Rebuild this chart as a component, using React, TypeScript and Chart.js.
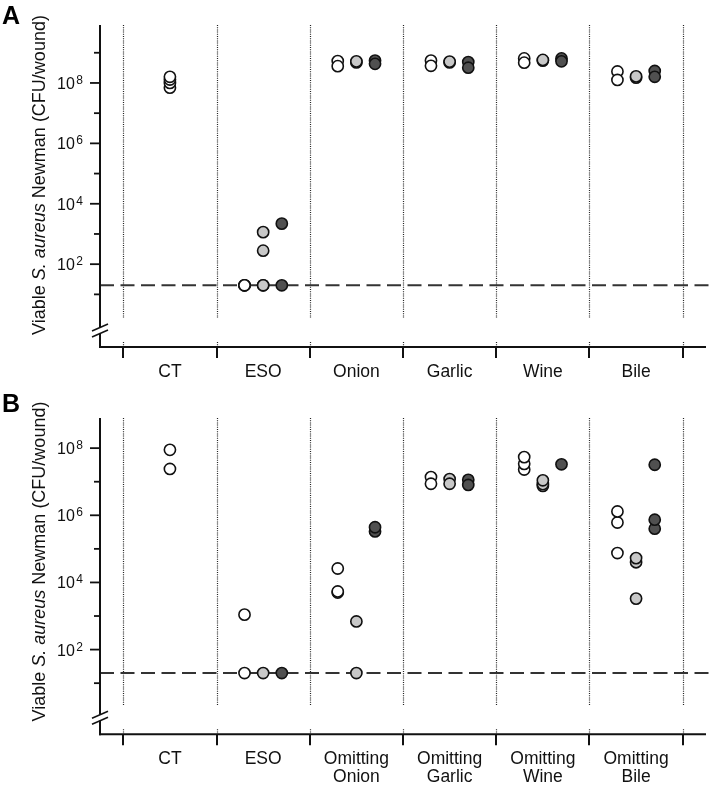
import React, { useEffect, useRef } from 'react';
import { Chart, registerables } from 'chart.js';
Chart.register(...registerables);

const FONT = '"Liberation Sans", Arial, Helvetica, sans-serif';

// ---------- data ----------
const categoriesA = ['CT', 'ESO', 'Onion', 'Garlic', 'Wine', 'Bile'];
const categoriesB = ['CT', 'ESO', 'Omitting\nOnion', 'Omitting\nGarlic', 'Omitting\nWine', 'Omitting\nBile'];

// per category: values of the three groups (white, light grey, dark grey)
const whiteA = [[7e7, 1.0e8, 1.3e8, 1.6e8], [20, 20, 20], [5.3e8, 3.6e8], [5.5e8, 3.7e8], [6.5e8, 4.7e8], [2.4e8, 1.26e8]];
const grayA = [[], [20, 20, 280, 1150], [4.8e8, 5.2e8], [4.8e8, 5.1e8], [5.5e8, 5.8e8], [1.5e8, 1.65e8]];
const darkA = [[], [20, 2200], [5.5e8, 4.3e8], [4.9e8, 3.2e8], [6.5e8, 5.2e8], [2.5e8, 1.6e8]];

const whiteB = [[8.9e7, 2.4e7], [20, 1100], [5000, 5400, 2.6e4], [1.37e7, 8.7e6], [2.3e7, 3.4e7, 5.4e7], [7.5e4, 6.1e5, 1.3e6]];
const grayB = [[], [20], [20, 690], [1.2e7, 8.7e6], [7.5e6, 8.5e6, 1.1e7], [3300, 4e4, 5.3e4]];
const darkB = [[], [20], [3.3e5, 4.4e5], [1.14e7, 8e6], [3.3e7], [4e5, 7.4e5, 3.2e7]];

const majorExponents = [2, 4, 6, 8];
const minorExponentsA = [1, 3, 5, 7, 9];
const minorExponentsB = [1, 3, 5, 7];
const detectionLimit = 20;

const groupColors = ['#ffffff', '#c8c8c8', '#505050'];
const groupNames = ['group 1', 'group 2', 'group 3'];

type PanelCfg = {
  letter: string;
  height: number;
  padding: { left: number; right: number; top: number; bottom: number };
  yMin: number;
  yMax: number;
  categories: string[];
  groups: number[][][];
  minor: number[];
  labelCenterY: number;
  letterBaseline: number;
};

const panelA: PanelCfg = {
  letter: 'A',
  height: 385,
  padding: { left: 100, right: 3, top: 25, bottom: 38 },
  yMin: 0.181,
  yMax: 8.3e9,
  categories: categoriesA,
  groups: [whiteA, grayA, darkA],
  minor: minorExponentsA,
  labelCenterY: 175,
  letterBaseline: 23.5,
};

const panelB: PanelCfg = {
  letter: 'B',
  height: 400,
  padding: { left: 100, right: 3, top: 33, bottom: 50.7 },
  yMin: 0.308,
  yMax: 7.9e8,
  categories: categoriesB,
  groups: [whiteB, grayB, darkB],
  minor: minorExponentsB,
  labelCenterY: 176.5,
  letterBaseline: 26.7,
};

function buildDatasets(groups: number[][][]) {
  return groups.map((g, gi) => ({
    label: groupNames[gi],
    data: g.flatMap((vals, ci) => {
      const present = groups.filter((gg) => gg[ci].length > 0).length;
      const offset = present > 1 ? (gi - 1) * 0.2 : 0;
      return vals.map((v) => ({ x: ci + 0.5 + offset, y: v }));
    }),
    backgroundColor: groupColors[gi],
    borderColor: '#111',
    borderWidth: 1.6,
    pointRadius: 5.6,
    pointHoverRadius: 5.6,
    showLine: false,
  }));
}

function line(ctx: CanvasRenderingContext2D, x1: number, y1: number, x2: number, y2: number) {
  ctx.beginPath();
  ctx.moveTo(x1, y1);
  ctx.lineTo(x2, y2);
  ctx.stroke();
}

function makePlugin(cfg: PanelCfg) {
  return {
    id: 'panelDecor',
    beforeDatasetsDraw(chart: any) {
      const ctx: CanvasRenderingContext2D = chart.ctx;
      const { left, top, bottom } = chart.chartArea;
      const xs = chart.scales.x;
      const ys = chart.scales.y;
      ctx.save();
      ctx.strokeStyle = '#222';
      ctx.lineWidth = 1.2;
      ctx.setLineDash([1, 1.2]);
      for (let i = 0; i <= cfg.categories.length; i++) {
        const x = Math.round(xs.getPixelForValue(i)) + 0.5;
        line(ctx, x, top, x, bottom - 29);
        line(ctx, x, bottom - 5, x, bottom);
      }
      ctx.setLineDash([14, 6.5]);
      ctx.lineWidth = 2;
      ctx.strokeStyle = '#333';
      const yd = ys.getPixelForValue(detectionLimit);
      line(ctx, left, yd, chart.width, yd);
      ctx.restore();
    },
    afterDraw(chart: any) {
      const ctx: CanvasRenderingContext2D = chart.ctx;
      const { left, right, top, bottom } = chart.chartArea;
      const xs = chart.scales.x;
      const ys = chart.scales.y;
      ctx.save();
      ctx.setLineDash([]);
      ctx.strokeStyle = '#111';
      ctx.fillStyle = '#111';
      ctx.lineWidth = 2;
      // y axis with break
      const b1 = bottom - 19.5;
      const b2 = bottom - 13.5;
      line(ctx, left, top, left, b1);
      line(ctx, left, b2, left, bottom + 1);
      ctx.lineWidth = 1.5;
      line(ctx, left - 8, b1 + 3.5, left + 8, b1 - 3.5);
      line(ctx, left - 8, b2 + 3.5, left + 8, b2 - 3.5);
      // x axis
      ctx.lineWidth = 2;
      line(ctx, left - 1, bottom, right, bottom);
      // y ticks
      ctx.lineWidth = 1.8;
      cfg.minor.forEach((e) => {
        const y = ys.getPixelForValue(Math.pow(10, e));
        line(ctx, left - 6, y, left, y);
      });
      majorExponents.forEach((e) => {
        const y = ys.getPixelForValue(Math.pow(10, e));
        line(ctx, left - 10, y, left, y);
        ctx.textAlign = 'right';
        ctx.textBaseline = 'alphabetic';
        ctx.font = `12px ${FONT}`;
        const sup = String(e);
        const supRight = left - 17;
        ctx.fillText(sup, supRight, y + 1);
        const sw = ctx.measureText(sup).width;
        ctx.font = `16px ${FONT}`;
        ctx.fillText('10', supRight - sw - 1.5, y + 6);
      });
      // x ticks and labels
      ctx.lineWidth = 2;
      for (let i = 0; i <= cfg.categories.length; i++) {
        const x = Math.round(xs.getPixelForValue(i));
        line(ctx, x, bottom, x, bottom + 11);
      }
      ctx.font = `17.5px ${FONT}`;
      ctx.textAlign = 'center';
      ctx.textBaseline = 'alphabetic';
      cfg.categories.forEach((c, i) => {
        const x = xs.getPixelForValue(i + 0.5);
        c.split('\n').forEach((ln, j) => {
          ctx.fillText(ln, x, bottom + 30 + j * 18);
        });
      });
      // y axis title
      ctx.save();
      ctx.translate(45, cfg.labelCenterY);
      ctx.rotate(-Math.PI / 2);
      const parts: [string, boolean][] = [
        ['Viable ', false],
        ['S. aureus', true],
        [' Newman (CFU/wound)', false],
      ];
      let total = 0;
      const widths = parts.map(([t, it]) => {
        ctx.font = `${it ? 'italic ' : ''}18px ${FONT}`;
        const w = ctx.measureText(t).width;
        total += w;
        return w;
      });
      let px = -total / 2;
      ctx.textAlign = 'left';
      parts.forEach(([t, it], k) => {
        ctx.font = `${it ? 'italic ' : ''}18px ${FONT}`;
        ctx.fillText(t, px, 0);
        px += widths[k];
      });
      ctx.restore();
      // panel letter
      ctx.font = `bold 25px ${FONT}`;
      ctx.textAlign = 'left';
      ctx.fillStyle = '#000';
      ctx.fillText(cfg.letter, 2, cfg.letterBaseline);
      ctx.restore();
    },
  };
}

function Panel({ cfg, top }: { cfg: PanelCfg; top: number }) {
  const ref = useRef<HTMLCanvasElement>(null);
  useEffect(() => {
    if (!ref.current) return;
    const chart = new Chart(ref.current, {
      type: 'scatter',
      data: { datasets: buildDatasets(cfg.groups) as any },
      options: {
        animation: false,
        responsive: false,
        maintainAspectRatio: false,
        devicePixelRatio: 1,
        events: [],
        layout: { padding: cfg.padding, autoPadding: false } as any,
        plugins: { legend: { display: false }, tooltip: { enabled: false } },
        scales: {
          x: { type: 'linear', min: -0.25, max: 6.25, display: false },
          y: { type: 'logarithmic', min: cfg.yMin, max: cfg.yMax, display: false },
        },
      },
      plugins: [makePlugin(cfg) as any],
    });
    return () => chart.destroy();
  }, [cfg]);
  return (
    <canvas
      ref={ref}
      width={709}
      height={cfg.height}
      style={{ position: 'absolute', left: 0, top, width: 709, height: cfg.height, display: 'block' }}
    />
  );
}

export default function App() {
  return (
    <div style={{ position: 'absolute', left: 0, top: 0, width: 709, height: 785, background: '#fff' }}>
      <Panel cfg={panelA} top={0} />
      <Panel cfg={panelB} top={385} />
    </div>
  );
}
